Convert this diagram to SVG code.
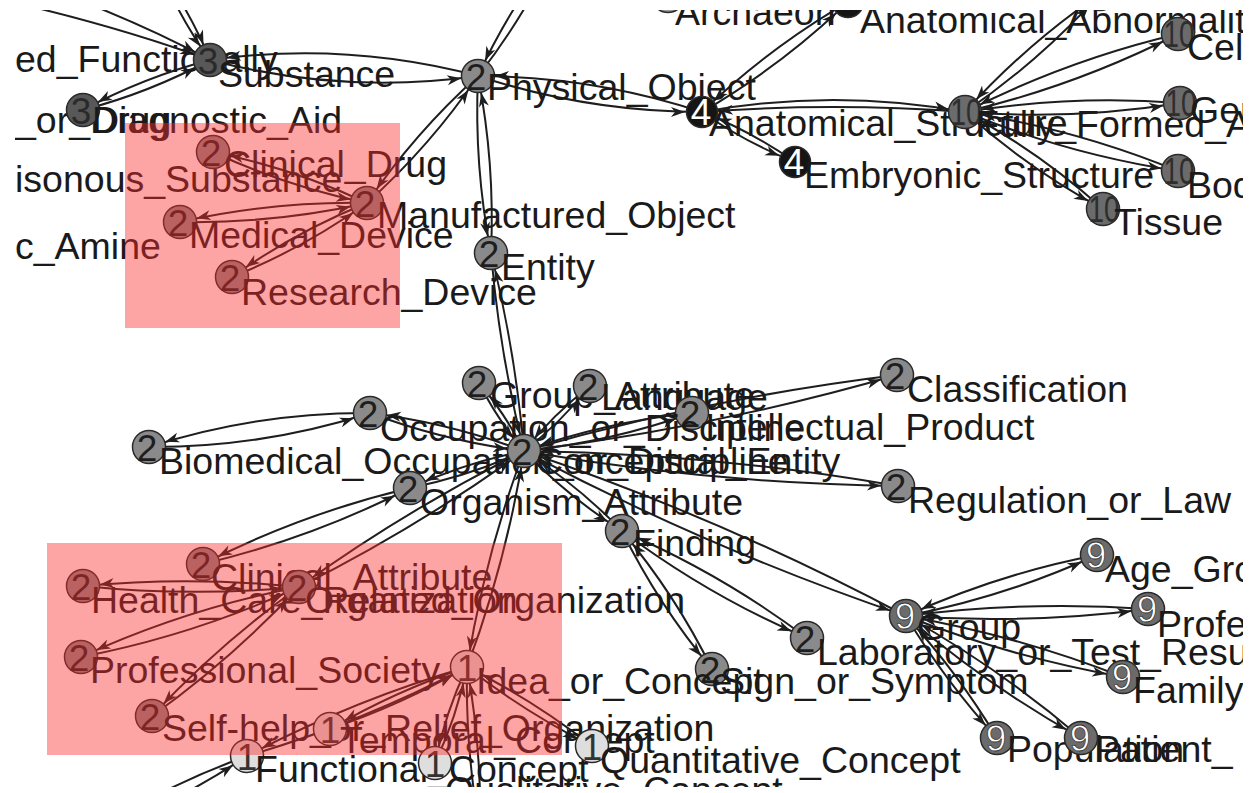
<svg xmlns="http://www.w3.org/2000/svg" width="1252" height="793" viewBox="0 0 1252 793">
<style>
text{font-family:"Liberation Sans",Arial,Helvetica,sans-serif}
.lbl{font-size:37.5px;fill:#1a1a1a}
.num{font-size:37px;text-anchor:middle}
.e{fill:none;stroke:#1e1e1e;stroke-width:2;marker-end:url(#ah)}
circle{stroke:#2a2a2a;stroke-width:1.5}
.g2 circle{fill:#8a8a8a}.g2 .num{fill:#1e1e1e}
.g3 circle{fill:#585858}.g3 .num{fill:#2a2a2a}
.g4 circle{fill:#151515}.g4 .num{fill:#fff}
.g10 circle{fill:#6b6b6b}.g10 .num{fill:#2e2e2e}
.g9 circle{fill:#6b6b6b}.g9 .num{fill:#fff;stroke:#333;stroke-width:.8}
.g1 circle{fill:#dedede}.g1 .num{fill:#333}
.ov{fill:#fa2d2d;fill-opacity:.43}
</style>
<defs>
<marker id="ah" markerUnits="userSpaceOnUse" markerWidth="14" markerHeight="10" refX="31" refY="5" orient="auto" overflow="visible"><path d="M0,0 L14,5 L0,10 L4,5 Z" fill="#1e1e1e"/></marker>
<clipPath id="clip"><rect x="15" y="10" width="1228" height="777"/></clipPath>
</defs>
<rect width="1252" height="793" fill="#fff"/>
<g clip-path="url(#clip)">
<g id="edges">
<path class="e" d="M210,60 Q342.5,95 478,76"/><path class="e" d="M478,76 Q345.5,41 210,60"/>
<path class="e" d="M83,110 Q149.5,92.6 210,60"/><path class="e" d="M210,60 Q143.5,77.4 83,110"/>
<path class="e" d="M160,-30 Q190.4,12 210,60"/><path class="e" d="M160,-30 Q179.6,18 210,60"/>
<path class="e" d="M-150,-30 Q60,5 210,60"/><path class="e" d="M-100,-60 Q90,-5 210,60"/>
<path class="e" d="M367,203 Q430.1,146.2 478,76"/><path class="e" d="M478,76 Q414.9,132.8 367,203"/>
<path class="e" d="M367,203 Q293.1,168.3 213,152"/><path class="e" d="M213,152 Q286.9,186.7 367,203"/>
<path class="e" d="M367,203 Q272.4,201.3 180,222"/><path class="e" d="M180,222 Q274.6,223.7 367,203"/>
<path class="e" d="M367,203 Q295.1,231.9 232,277"/><path class="e" d="M232,277 Q303.9,248.1 367,203"/>
<path class="e" d="M478,76 Q473.9,165.3 491,253"/><path class="e" d="M491,253 Q495.1,163.7 478,76"/>
<path class="e" d="M478,76 Q524,17.6 555,-50"/><path class="e" d="M555,-50 Q509,8.4 478,76"/>
<path class="e" d="M478,76 Q587.1,111.9 702,112"/><path class="e" d="M702,112 Q592.9,76.1 478,76"/>
<path class="e" d="M702,112 Q745.5,142.6 795,162"/><path class="e" d="M795,162 Q751.5,131.4 702,112"/>
<path class="e" d="M702,112 Q781.6,65.8 848,2"/><path class="e" d="M848,2 Q768.4,48.2 702,112"/>
<path class="e" d="M702,112 Q833,88 965,112"/><path class="e" d="M965,112 Q833,102 702,112"/>
<path class="e" d="M965,112 Q1076.2,85.8 1178,34"/><path class="e" d="M1178,34 Q1066.8,60.2 965,112"/>
<path class="e" d="M965,112 Q1073,120.4 1180,103"/><path class="e" d="M1180,103 Q1072,94.6 965,112"/>
<path class="e" d="M965,112 Q1068,154.3 1178,171"/><path class="e" d="M1178,171 Q1075,128.7 965,112"/>
<path class="e" d="M965,112 Q1028.2,168.8 1103,209"/><path class="e" d="M1103,209 Q1039.8,152.2 965,112"/>
<path class="e" d="M965,112 Q1039.6,61.1 1100,-6"/><path class="e" d="M1100,-6 Q1025.4,44.9 965,112"/>
<path class="e" d="M491,253 Q499.6,353.3 524,451"/><path class="e" d="M524,451 Q515.4,350.7 491,253"/>
<path class="e" d="M524,451 Q505.6,414.3 479,383"/><path class="e" d="M479,383 Q497.4,419.7 524,451"/>
<path class="e" d="M524,451 Q560.9,422.5 590,386"/><path class="e" d="M590,386 Q553.1,414.5 524,451"/>
<path class="e" d="M524,451 Q610.3,442.1 692,413"/><path class="e" d="M692,413 Q605.7,421.9 524,451"/>
<path class="e" d="M524,451 Q713.5,427.9 897,375"/><path class="e" d="M897,375 Q707.5,398.1 524,451"/>
<path class="e" d="M524,451 Q709.6,483.5 898,486"/><path class="e" d="M898,486 Q712.4,453.5 524,451"/>
<path class="e" d="M524,451 Q449.3,422.8 370,413"/><path class="e" d="M370,413 Q444.7,441.2 524,451"/>
<path class="e" d="M370,413 Q256.8,412.3 149,447"/><path class="e" d="M149,447 Q262.2,447.7 370,413"/>
<path class="e" d="M524,451 Q464.8,462.7 410,488"/><path class="e" d="M410,488 Q469.2,476.3 524,451"/>
<path class="e" d="M524,451 Q568.2,496.9 622,531"/><path class="e" d="M622,531 Q577.8,485.1 524,451"/>
<path class="e" d="M524,451 Q484.7,556.1 467,667"/><path class="e" d="M467,667 Q506.3,561.9 524,451"/>
<path class="e" d="M524,451 Q406.1,510 299,587"/><path class="e" d="M299,587 Q416.9,528 524,451"/>
<path class="e" d="M524,451 Q708.4,548.8 906,616"/><path class="e" d="M906,616 Q721.6,518.2 524,451"/>
<path class="e" d="M410,488 Q301.9,513.6 203,564"/><path class="e" d="M203,564 Q311.1,538.4 410,488"/>
<path class="e" d="M299,587 Q191,575.8 83,586"/><path class="e" d="M83,586 Q191,597.2 299,587"/>
<path class="e" d="M299,587 Q185.8,608.9 81,657"/><path class="e" d="M81,657 Q194.2,635.1 299,587"/>
<path class="e" d="M299,587 Q219,644.1 152,716"/><path class="e" d="M152,716 Q232,658.9 299,587"/>
<path class="e" d="M467,667 Q395.4,691.1 330,729"/><path class="e" d="M330,729 Q401.6,704.9 467,667"/>
<path class="e" d="M467,667 Q352.5,700.5 247,756"/><path class="e" d="M247,756 Q361.5,722.5 467,667"/>
<path class="e" d="M467,667 Q445.2,713.1 435,763"/><path class="e" d="M435,763 Q456.8,716.9 467,667"/>
<path class="e" d="M467,667 Q525.5,712.8 592,746"/><path class="e" d="M592,746 Q533.5,700.2 467,667"/>
<path class="e" d="M467,667 Q465.3,749.2 480,830"/><path class="e" d="M480,830 Q481.7,747.8 467,667"/>
<path class="e" d="M247,756 Q158.5,788 80,840"/><path class="e" d="M80,840 Q168.5,808 247,756"/>
<path class="e" d="M622,531 Q658.7,605.4 712,669"/><path class="e" d="M712,669 Q675.3,594.6 622,531"/>
<path class="e" d="M622,531 Q708.1,595.6 807,638"/><path class="e" d="M807,638 Q720.9,573.4 622,531"/>
<path class="e" d="M906,616 Q1005.2,597 1097,555"/><path class="e" d="M1097,555 Q997.8,574 906,616"/>
<path class="e" d="M906,616 Q1027.4,624.6 1148,609"/><path class="e" d="M1148,609 Q1026.6,600.4 906,616"/>
<path class="e" d="M906,616 Q1011.5,657.4 1123,677"/><path class="e" d="M1123,677 Q1017.5,635.6 906,616"/>
<path class="e" d="M906,616 Q945.4,681.6 997,738"/><path class="e" d="M997,738 Q957.6,672.4 906,616"/>
<path class="e" d="M906,616 Q987.4,685.8 1081,738"/><path class="e" d="M1081,738 Q999.6,668.2 906,616"/>
</g>
<g id="offscreen-labels">
<text class="lbl" x="15" y="72">ed_Functionally</text>
<text class="lbl" x="15" y="133">_or_Drug</text>
<text class="lbl" x="15" y="192">isonous_Substance</text>
<text class="lbl" x="15" y="259">c_Amine</text>
</g>
<g id="n-x" class="g2"><circle cx="600" cy="-8" r="16.5"/></g>
<g id="n-archaeon" class="g2"><circle cx="668" cy="-4" r="16.5" style="fill:#9a9a9a"/><text class="lbl" x="675" y="25">Archaeon</text></g>
<g id="n-top" class="g10"><circle cx="1100" cy="-6" r="16.5"/></g>
<g id="n-abnormality" class="g4"><circle cx="848" cy="2" r="15.5"/><text class="lbl" x="860" y="33">Anatomical_Abnormality</text></g>
<g id="n-substance" class="g3"><circle cx="210" cy="60" r="16.5"/><text class="num" x="208" y="73.5">3</text><text class="lbl" x="218" y="87">Substance</text></g>
<g id="n-diagnostic" class="g3"><circle cx="83" cy="110" r="16.5"/><text class="num" x="81" y="123.5">3</text><text class="lbl" x="92" y="133">Diagnostic_Aid</text></g>
<g id="n-physical" class="g2"><circle cx="478" cy="76" r="16.5"/><text class="num" x="476" y="89.5">2</text><text class="lbl" x="487" y="100">Physical_Object</text></g>
<g id="n-clinical-drug" class="g2"><circle cx="213" cy="152" r="16.5"/><text class="num" x="211" y="165.5">2</text><text class="lbl" x="224" y="177">Clinical_Drug</text></g>
<g id="n-manufactured" class="g2"><circle cx="367" cy="203" r="16.5"/><text class="num" x="365" y="216.5">2</text><text class="lbl" x="377" y="228">Manufactured_Object</text></g>
<g id="n-medical-device" class="g2"><circle cx="180" cy="222" r="16.5"/><text class="num" x="178" y="235.5">2</text><text class="lbl" x="189" y="248">Medical_Device</text></g>
<g id="n-research-device" class="g2"><circle cx="232" cy="277" r="16.5"/><text class="num" x="230" y="290.5">2</text><text class="lbl" x="241" y="305">Research_Device</text></g>
<g id="n-entity" class="g2"><circle cx="491" cy="253" r="16.5"/><text class="num" x="489" y="266.5">2</text><text class="lbl" x="501" y="280">Entity</text></g>
<g id="n-anatomical" class="g4"><circle cx="702" cy="112" r="15.5"/><text class="num" x="701" y="125">4</text><text class="lbl" x="709" y="136">Anatomical_Structure</text></g>
<g id="n-embryonic" class="g4"><circle cx="795" cy="162" r="15.5"/><text class="num" x="794" y="175">4</text><text class="lbl" x="804" y="188">Embryonic_Structure</text></g>
<g id="n-fully-formed" class="g10"><circle cx="965" cy="112" r="16.5"/><text class="num" x="966" y="125" textLength="31" lengthAdjust="spacingAndGlyphs">10</text><text class="lbl" x="976" y="137">Fully_Formed_A</text></g>
<g id="n-cell" class="g10"><circle cx="1178" cy="34" r="16.5"/><text class="num" x="1179" y="47" textLength="31" lengthAdjust="spacingAndGlyphs">10</text><text class="lbl" x="1187" y="60">Cell</text></g>
<g id="n-gene" class="g10"><circle cx="1180" cy="103" r="16.5"/><text class="num" x="1181" y="116" textLength="31" lengthAdjust="spacingAndGlyphs">10</text><text class="lbl" x="1190" y="123">Gen</text></g>
<g id="n-body" class="g10"><circle cx="1178" cy="171" r="16.5"/><text class="num" x="1179" y="184" textLength="31" lengthAdjust="spacingAndGlyphs">10</text><text class="lbl" x="1187" y="198">Bod</text></g>
<g id="n-tissue" class="g10"><circle cx="1103" cy="209" r="16.5"/><text class="num" x="1104" y="222" textLength="31" lengthAdjust="spacingAndGlyphs">10</text><text class="lbl" x="1114" y="235">Tissue</text></g>
<g id="n-group-attribute" class="g2"><circle cx="479" cy="383" r="16.5"/><text class="num" x="477" y="396.5">2</text><text class="lbl" x="490" y="408">Group_Attribute</text></g>
<g id="n-language" class="g2"><circle cx="590" cy="386" r="16.5"/><text class="num" x="588" y="399.5">2</text><text class="lbl" x="601" y="410">Language</text></g>
<g id="n-intellectual" class="g2"><circle cx="692" cy="413" r="16.5"/><text class="num" x="690" y="426.5">2</text><text class="lbl" x="705" y="440">Intellectual_Product</text></g>
<g id="n-classification" class="g2"><circle cx="897" cy="375" r="16.5"/><text class="num" x="895" y="388.5">2</text><text class="lbl" x="907" y="402">Classification</text></g>
<g id="n-regulation" class="g2"><circle cx="898" cy="486" r="16.5"/><text class="num" x="896" y="499.5">2</text><text class="lbl" x="908" y="513">Regulation_or_Law</text></g>
<g id="n-occupation" class="g2"><circle cx="370" cy="413" r="16.5"/><text class="num" x="368" y="426.5">2</text><text class="lbl" x="380" y="441">Occupation_or_Discipline</text></g>
<g id="n-biomedical" class="g2"><circle cx="149" cy="447" r="16.5"/><text class="num" x="147" y="460.5">2</text><text class="lbl" x="159" y="474">Biomedical_Occupation_or_Discipline</text></g>
<g id="n-conceptual" class="g2"><circle cx="524" cy="451" r="16.5"/><text class="num" x="522" y="464.5">2</text><text class="lbl" x="536" y="474">Conceptual_Entity</text></g>
<g id="n-organism-attribute" class="g2"><circle cx="410" cy="488" r="16.5"/><text class="num" x="408" y="501.5">2</text><text class="lbl" x="420" y="515">Organism_Attribute</text></g>
<g id="n-finding" class="g2"><circle cx="622" cy="531" r="16.5"/><text class="num" x="620" y="544.5">2</text><text class="lbl" x="633" y="556">Finding</text></g>
<g id="n-laboratory" class="g2"><circle cx="807" cy="638" r="16.5"/><text class="num" x="805" y="651.5">2</text><text class="lbl" x="817" y="665">Laboratory_or_Test_Resu</text></g>
<g id="n-sign" class="g2"><circle cx="712" cy="669" r="16.5"/><text class="num" x="710" y="682.5">2</text><text class="lbl" x="720" y="694">Sign_or_Symptom</text></g>
<g id="n-group" class="g9"><circle cx="906" cy="616" r="16.5"/><text class="num" x="905" y="629">9</text><text class="lbl" x="917" y="640">Group</text></g>
<g id="n-age" class="g9"><circle cx="1097" cy="555" r="16.5"/><text class="num" x="1096" y="568">9</text><text class="lbl" x="1105" y="582">Age_Gro</text></g>
<g id="n-professional" class="g9"><circle cx="1148" cy="609" r="16.5"/><text class="num" x="1147" y="622">9</text><text class="lbl" x="1157" y="637">Profe</text></g>
<g id="n-family" class="g9"><circle cx="1123" cy="677" r="16.5"/><text class="num" x="1122" y="690">9</text><text class="lbl" x="1133" y="703">Family</text></g>
<g id="n-population" class="g9"><circle cx="997" cy="738" r="16.5"/><text class="num" x="996" y="751">9</text><text class="lbl" x="1007" y="762">Population</text></g>
<g id="n-patient" class="g9"><circle cx="1081" cy="738" r="16.5"/><text class="num" x="1080" y="751">9</text><text class="lbl" x="1095" y="762">Patient_</text></g>
<g id="n-clinical-attribute" class="g2"><circle cx="203" cy="564" r="16.5"/><text class="num" x="201" y="577.5">2</text><text class="lbl" x="211" y="590">Clinical_Attribute</text></g>
<g id="n-health-care" class="g2"><circle cx="83" cy="586" r="16.5"/><text class="num" x="81" y="599.5">2</text><text class="lbl" x="91" y="613">Health_Care_Related_Organization</text></g>
<g id="n-organization" class="g2"><circle cx="299" cy="587" r="16.5"/><text class="num" x="297" y="600.5">2</text><text class="lbl" x="305" y="613">Organization</text></g>
<g id="n-professional-society" class="g2"><circle cx="81" cy="657" r="16.5"/><text class="num" x="79" y="670.5">2</text><text class="lbl" x="90" y="683">Professional_Society</text></g>
<g id="n-self-help" class="g2"><circle cx="152" cy="716" r="16.5"/><text class="num" x="150" y="729.5">2</text><text class="lbl" x="162" y="741">Self-help_or_Relief_Organization</text></g>
<g id="n-idea" class="g1"><circle cx="467" cy="667" r="16.5"/><text class="num" x="467" y="680.5">1</text><text class="lbl" x="476" y="694">Idea_or_Concept</text></g>
<g id="n-temporal" class="g1"><circle cx="330" cy="729" r="16.5"/><text class="num" x="330" y="742.5">1</text><text class="lbl" x="340" y="753">Temporal_Concept</text></g>
<g id="n-functional" class="g1"><circle cx="247" cy="756" r="16.5"/><text class="num" x="247" y="769.5">1</text><text class="lbl" x="255" y="782">Functional_Concept</text></g>
<g id="n-qualitative" class="g1"><circle cx="435" cy="763" r="16.5"/><text class="num" x="435" y="776.5">1</text><text class="lbl" x="445" y="803">Qualitative_Concept</text></g>
<g id="n-quantitative" class="g1"><circle cx="592" cy="746" r="16.5"/><text class="num" x="592" y="759.5">1</text><text class="lbl" x="600" y="773">Quantitative_Concept</text></g>
<g id="highlights">
<rect class="ov" x="125" y="123" width="275" height="205"/>
<rect class="ov" x="47" y="543" width="515" height="212"/>
</g>
</g>
</svg>
